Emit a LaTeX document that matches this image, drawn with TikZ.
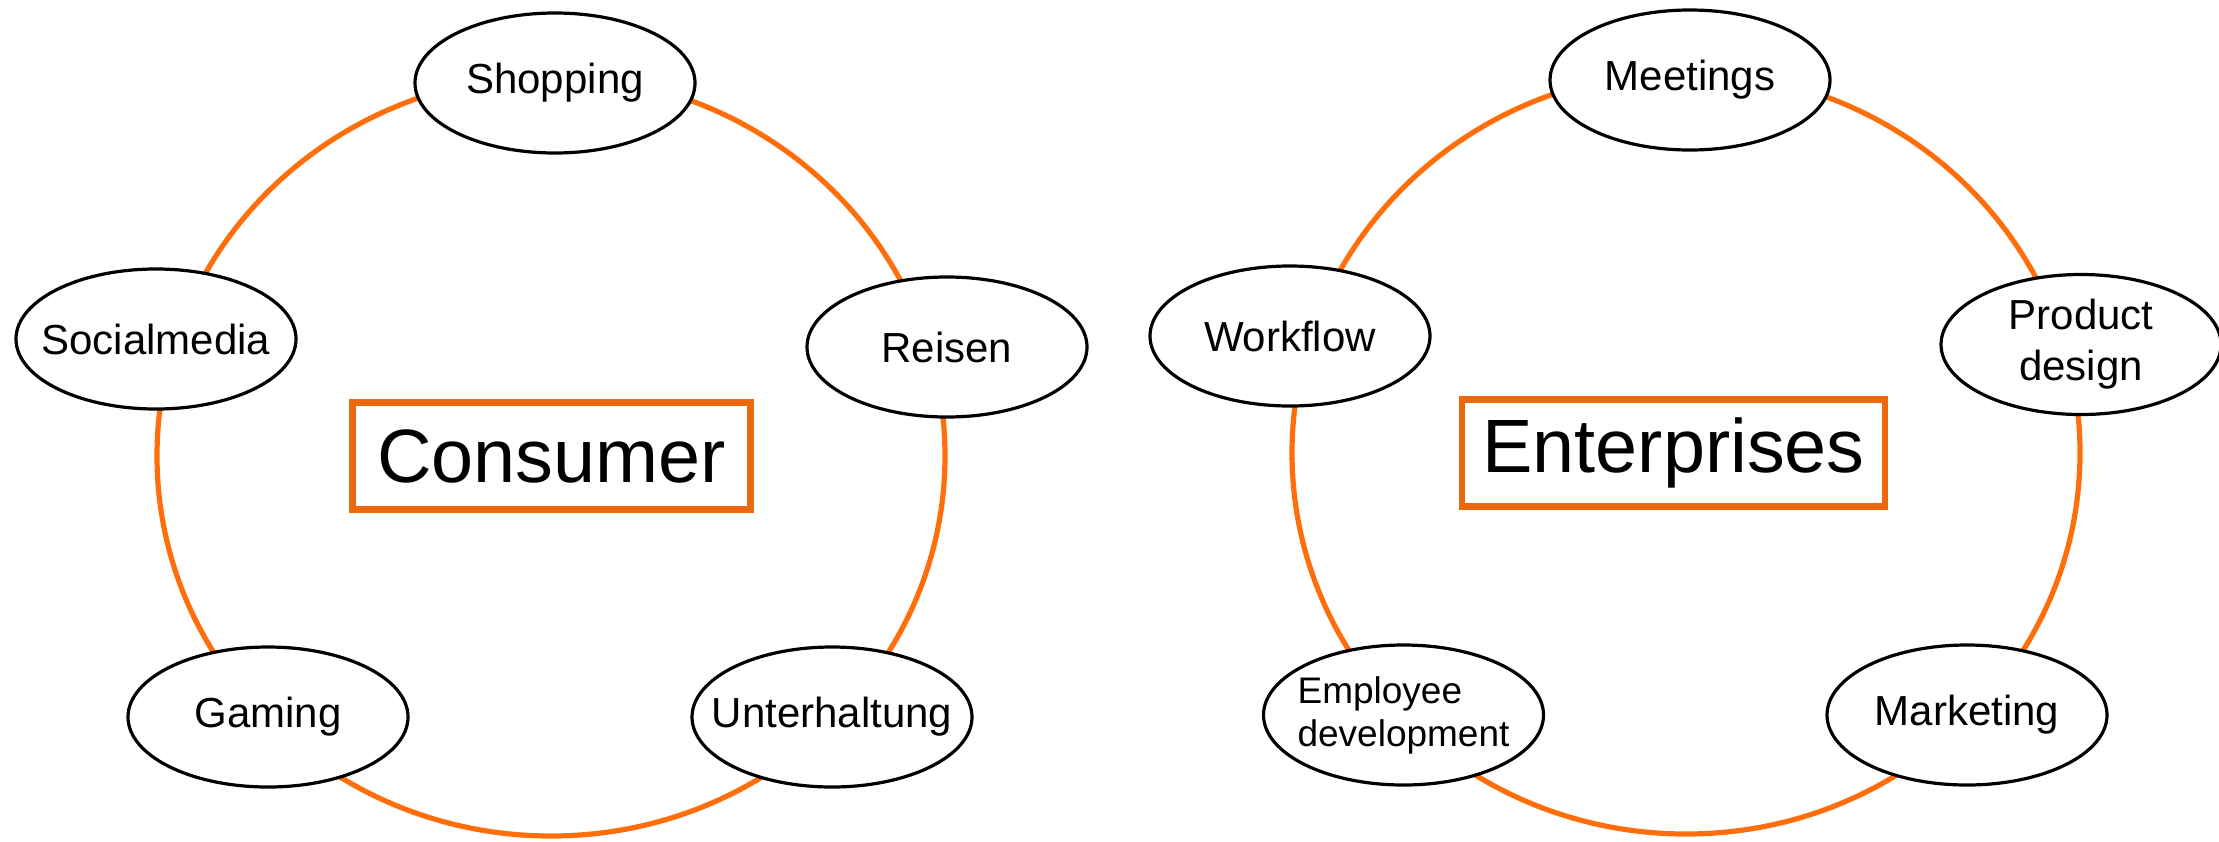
\documentclass[tikz,border=0pt]{standalone}
\usepackage{fontspec}
\setmainfont{Liberation Sans}
\usetikzlibrary{shapes.geometric}
\definecolor{ringorange}{HTML}{FF6E0A}
\definecolor{boxorange}{HTML}{EC680E}
\begin{document}
\begin{tikzpicture}[x=0.5pt,y=-0.5pt,
  topic/.style={draw=black, line width=1.6pt, fill=white, ellipse,
    minimum width=140pt, minimum height=70pt,
    inner xsep=-25pt, inner ysep=-6pt,
    font=\fontsize{21}{25}\selectfont},
  ring/.style={draw=ringorange, line width=2.6pt},
  titlebox/.style={draw=boxorange, line width=3.2pt, fill=white,
    minimum height=53.5pt, inner sep=0pt,
    font=\fontsize{37.8}{44}\selectfont}]
\useasboundingbox (0,0) rectangle (2219,841);

% ---- consumer side ----
\coordinate (cL) at (551,456);
\draw[ring] (cL) ellipse [x radius=197pt, y radius=190pt];
\node[topic] (shopping) at (555,83) {Shopping};
\node[topic] (social) at (156,339) {Socialmedia};
\node[topic] (reisen) at (947,347) {Reisen};
\node[topic] (gaming) at (268,717) {Gaming};
\node[topic] (unterhaltung) at (832,717) {Unterhaltung};
\node[titlebox, minimum width=199pt] (consumer) at (551.5,456) {Consumer};

% ---- enterprise side ----
\coordinate (cR) at (1686,453);
\draw[ring] (cR) ellipse [x radius=197pt, y radius=190.5pt];
\node[topic] (meetings) at (1690,80) {Meetings};
\node[topic] (workflow) at (1290,336) {Workflow};
\node[topic, align=center, font=\fontsize{21}{25.5}\selectfont] (product) at (2081,344.5) {Product\\design};
\node[topic, align=left, font=\fontsize{18.5}{21.5}\selectfont] (employee) at (1403.5,715) {Employee\\development};
\node[topic] (marketing) at (1967,715) {Marketing};
\node[titlebox, minimum width=211.5pt] (enterprises) at (1673.5,453) {Enterprises};
\end{tikzpicture}
\end{document}
